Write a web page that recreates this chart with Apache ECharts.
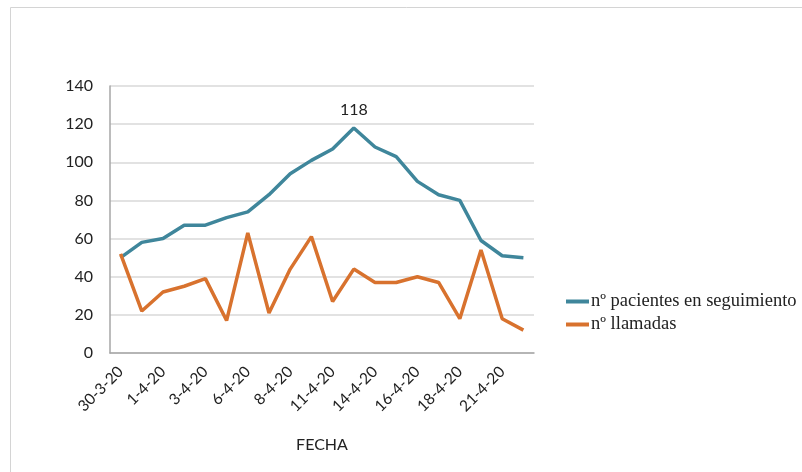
<!DOCTYPE html>
<html>
<head>
<meta charset="utf-8">
<script src="https://cdn.jsdelivr.net/npm/echarts@6/dist/echarts.min.js"></script>
<style>
  html, body { margin: 0; padding: 0; background: #fff; }
  #chart { width: 802px; height: 472px; }
</style>
</head>
<body>
<div id="chart"></div>
<script>
// fechas (eje X)
const fechas = ['30-3-20', '31-3-20', '1-4-20', '2-4-20', '3-4-20', '5-4-20', '6-4-20', '7-4-20',
  '8-4-20', '10-4-20', '11-4-20', '13-4-20', '14-4-20', '15-4-20', '16-4-20', '17-4-20',
  '18-4-20', '20-4-20', '21-4-20', '22-4-20'];
// nº pacientes en seguimiento
const pacientes = [50, 58, 60, 67, 67, 71, 74, 83, 94, 101, 107, 118, 108, 103, 90, 83, 80, 59, 51, 50];
// nº llamadas
const llamadas = [52, 22, 32, 35, 39, 17, 63, 21, 44, 61, 27, 44, 37, 37, 40, 37, 18, 54, 18, 12];

const maxVal = Math.max.apply(null, pacientes);
const sans = 'Lato';

const chart = echarts.init(document.getElementById('chart'));
chart.setOption({
  animation: false,
  backgroundColor: '#fff',
  graphic: [{ // marco
    type: 'polyline',
    shape: { points: [[10.5, 480], [10.5, 7.5], [810, 7.5]] },
    style: { stroke: '#d4d4d4', lineWidth: 1, fill: null },
    silent: true
  }],
  grid: { left: 110, right: 268, top: 86, bottom: 119 },
  legend: {
    orient: 'vertical',
    left: 561,
    top: 287,
    icon: 'rect',
    itemWidth: 23,
    itemHeight: 4,
    itemGap: 4,
    textStyle: { fontFamily: 'Liberation Serif', fontSize: 18.5, color: '#222', padding: [0, 0, 0, -3] },
    data: ['nº pacientes en seguimiento', 'nº llamadas']
  },
  xAxis: {
    type: 'category',
    data: fechas,
    name: 'FECHA',
    nameLocation: 'middle',
    nameGap: 84,
    nameTextStyle: { fontFamily: sans, fontSize: 16, color: '#222' },
    axisTick: { show: false },
    axisLine: { lineStyle: { color: '#a6a6a6', width: 1.5 } },
    axisLabel: { interval: 1, rotate: 45, margin: 16, fontFamily: sans, fontSize: 15.5, color: '#222' }
  },
  yAxis: {
    type: 'value',
    min: 0,
    max: 140,
    interval: 20,
    axisLine: { show: true, lineStyle: { color: '#a6a6a6', width: 1.5 } },
    axisTick: { show: false },
    axisLabel: { fontFamily: sans, fontSize: 16, color: '#222', margin: 17 },
    splitLine: { lineStyle: { color: '#d9d9d9', width: 1.5 } }
  },
  series: [
    {
      name: 'nº pacientes en seguimiento',
      type: 'line',
      data: pacientes,
      symbol: 'circle',
      symbolSize: 0,
      showSymbol: true,
      color: '#3f869b',
      lineStyle: { width: 3.5, color: '#3f869b' },
      label: {
        show: true,
        position: 'top',
        distance: 10,
        fontFamily: sans,
        fontSize: 16,
        color: '#222',
        formatter: p => (p.value === maxVal ? String(p.value) : '')
      }
    },
    {
      name: 'nº llamadas',
      type: 'line',
      data: llamadas,
      symbol: 'none',
      color: '#d8722e',
      lineStyle: { width: 3.5, color: '#d8722e' }
    }
  ]
});
</script>
</body>
</html>
